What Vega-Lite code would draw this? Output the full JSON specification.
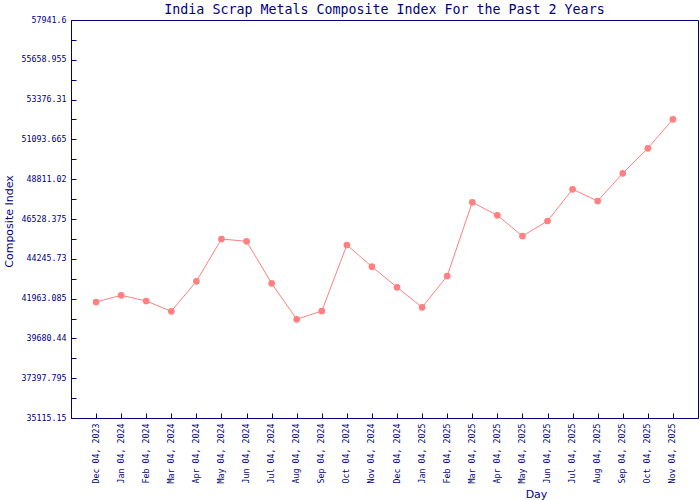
{
  "$schema": "https://vega.github.io/schema/vega-lite/v6.json",
  "autosize": {"type": "none"},
  "padding": {"left": 71, "top": 20, "right": 2, "bottom": 82},
  "width": 627,
  "height": 398,
  "background": "white",
  "title": {
    "text": "India Scrap Metals Composite Index For the Past 2 Years",
    "font": "DejaVu Sans Mono",
    "fontSize": 13.3,
    "fontWeight": "normal",
    "color": "#000080",
    "anchor": "middle",
    "offset": 0,
    "dy": 1
  },
  "config": {
    "view": {"stroke": "#000080", "strokeWidth": 1},
    "axis": {
      "domainColor": "#000080",
      "tickColor": "#000080",
      "labelColor": "#000080",
      "titleColor": "#000080",
      "labelFont": "DejaVu Sans Mono",
      "labelFontSize": 8.3,
      "titleFont": "DejaVu Sans",
      "titleFontSize": 11,
      "titleFontWeight": "normal",
      "grid": false,
      "tickSize": -5,
      "labelPadding": 10
    }
  },
  "data": {
    "values": [
      {"date": "Dec 04, 2023", "index": 41768},
      {"date": "Jan 04, 2024", "index": 42152},
      {"date": "Feb 04, 2024", "index": 41825},
      {"date": "Mar 04, 2024", "index": 41235},
      {"date": "Apr 04, 2024", "index": 42955},
      {"date": "May 04, 2024", "index": 45381},
      {"date": "Jun 04, 2024", "index": 45249},
      {"date": "Jul 04, 2024", "index": 42841},
      {"date": "Aug 04, 2024", "index": 40776},
      {"date": "Sep 04, 2024", "index": 41252},
      {"date": "Oct 04, 2024", "index": 45037},
      {"date": "Nov 04, 2024", "index": 43793},
      {"date": "Dec 04, 2024", "index": 42611},
      {"date": "Jan 04, 2025", "index": 41464},
      {"date": "Feb 04, 2025", "index": 43259},
      {"date": "Mar 04, 2025", "index": 47486},
      {"date": "Apr 04, 2025", "index": 46740},
      {"date": "May 04, 2025", "index": 45553},
      {"date": "Jun 04, 2025", "index": 46414},
      {"date": "Jul 04, 2025", "index": 48232},
      {"date": "Aug 04, 2025", "index": 47561},
      {"date": "Sep 04, 2025", "index": 49149},
      {"date": "Oct 04, 2025", "index": 50583},
      {"date": "Nov 04, 2025", "index": 52246}
    ]
  },
  "encoding": {
    "x": {
      "field": "date",
      "type": "ordinal",
      "sort": null,
      "scale": {"type": "point", "padding": 1},
      "axis": {
        "title": "Day",
        "labelAngle": -90,
        "titleX": 465,
        "titleY": 70,
        "titleBaseline": "top",
        "titleAnchor": "middle",
        "titleAlign": "center"
      }
    },
    "y": {
      "field": "index",
      "type": "quantitative",
      "scale": {"domain": [35115.15, 57941.6], "nice": false, "zero": false},
      "axis": {
        "title": "Composite Index",
        "values": [35115.15, 36256.4725, 37397.795, 38539.1175, 39680.44, 40821.7625, 41963.085, 43104.4075, 44245.73, 45387.0525, 46528.375, 47669.6975, 48811.02, 49952.3425, 51093.665, 52234.9875, 53376.31, 54517.6325, 55658.955, 56800.2775, 57941.6],
        "labelExpr": "round((datum.value - 35115.15) / 1141.3225) % 2 == 0 ? format(datum.value, '.3~f') : ''",
        "labelOverlap": false,
        "labelFlush": false,
        "titleX": -57,
        "titleY": 201,
        "titleAnchor": "middle"
      }
    }
  },
  "layer": [
    {"mark": {"type": "line", "color": "#ff8080", "strokeWidth": 1}},
    {"mark": {"type": "point", "shape": "circle", "filled": true, "size": 45, "color": "#ff8080", "opacity": 1}}
  ]
}
